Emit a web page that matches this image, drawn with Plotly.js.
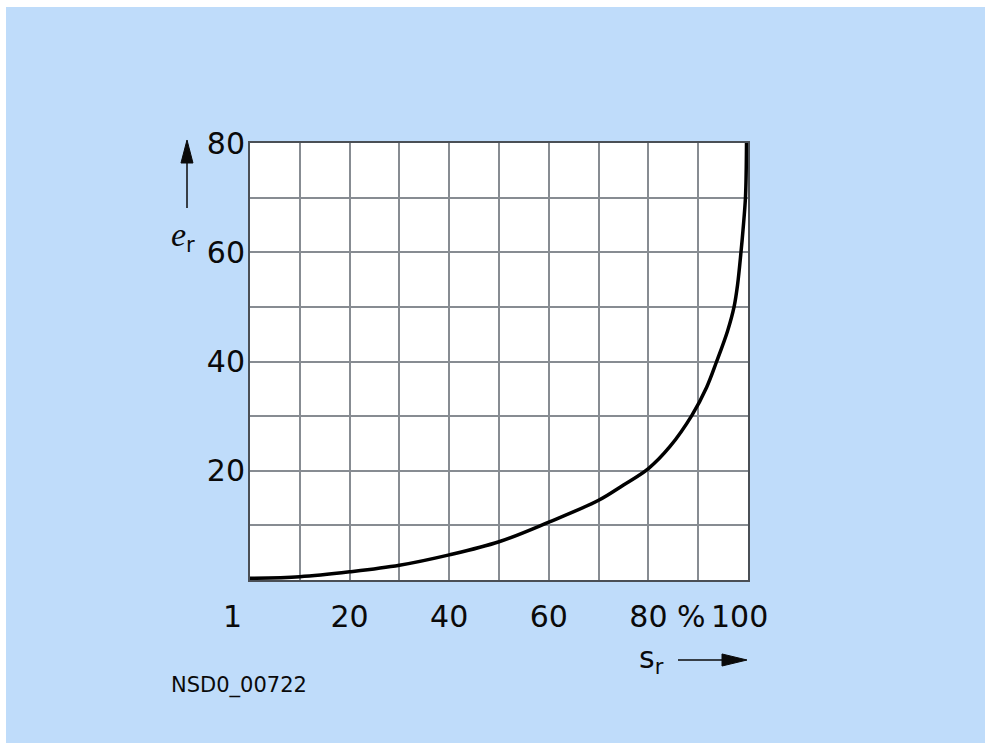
<!DOCTYPE html>
<html>
<head>
<meta charset="utf-8">
<script src="https://cdn.plot.ly/plotly-3.0.1.min.js"></script>
<style>
html,body{margin:0;padding:0;background:#ffffff;}
#chart{position:absolute;left:6px;top:7px;width:979px;height:736px;}
</style>
</head>
<body>
<div id="chart"></div>
<script>
// s_r in %, e_r values
const sr = [0, 10, 20, 30, 40, 50, 60, 70, 75, 80, 84.3, 88.7, 91.7, 93.7, 95.9, 97.2, 97.9, 98.6, 99.0, 99.5, 99.7];
const er = [0.3, 0.6, 1.5, 2.7, 4.6, 7.0, 10.6, 14.6, 17.4, 20.4, 24.4, 30.1, 35.3, 40, 45.6, 50, 54, 60.1, 64.1, 70.2, 80];
const xTickVals = [20, 40, 60, 80];
const xTickText = ['20', '40', '60', '80'];
const yTickVals = [20, 40, 60, 80];
const yTickText = ['20', '40', '60', '80'];

const bg = '#bfdcfa';
const gridC = '#878c92';
const font = 'DejaVu Sans, sans-serif';
const ink = '#0a0a0a';

const trace = {
  x: sr, y: er, xaxis: 'x2', yaxis: 'y2', type: 'scatter', mode: 'lines',
  line: {color: '#000000', width: 3.5, shape: 'spline', smoothing: 1.0},
  hoverinfo: 'skip', showlegend: false
};

const labelY = -0.083;
const layout = {
  width: 979, height: 736,
  margin: {l: 244, r: 237, t: 136, b: 163},
  paper_bgcolor: bg, plot_bgcolor: '#ffffff',
  showlegend: false,
  xaxis: {
    range: [0, 100], fixedrange: true,
    showgrid: true, gridcolor: gridC, gridwidth: 2,
    showline: true, linecolor: '#4a4f55', linewidth: 2, mirror: true,
    zeroline: false, ticks: '',
    tickmode: 'array', tickvals: xTickVals, ticktext: xTickText,
    ticklabelstandoff: 9,
    tickfont: {family: font, size: 30, color: ink}
  },
  yaxis: {
    range: [0, 80], fixedrange: true,
    showgrid: true, gridcolor: gridC, gridwidth: 2,
    showline: true, linecolor: '#4a4f55', linewidth: 2, mirror: true,
    zeroline: false, ticks: '',
    tickmode: 'array', tickvals: yTickVals, ticktext: yTickText,
    ticklabelstandoff: -3,
    tickfont: {family: font, size: 30, color: ink}
  },
  xaxis2: {
    overlaying: 'x', range: [0, 100], dtick: 10, tick0: 0, fixedrange: true,
    showgrid: true, gridcolor: gridC, gridwidth: 2, showticklabels: false,
    zeroline: false, showline: false, ticks: ''
  },
  yaxis2: {
    overlaying: 'y', range: [0, 80], dtick: 10, tick0: 0, fixedrange: true,
    showgrid: true, gridcolor: gridC, gridwidth: 2, showticklabels: false,
    zeroline: false, showline: false, ticks: ''
  },
  shapes: [
    // y-axis arrow
    {type: 'line', xref: 'paper', yref: 'paper', x0: -0.1265, x1: -0.1265, y0: 0.8513, y1: 0.96,
     line: {color: ink, width: 1.5}},
    {type: 'path', xref: 'paper', yref: 'paper',
     path: 'M -0.1386 0.9542 L -0.1145 0.9542 L -0.1265 1.0069 Z',
     fillcolor: ink, line: {color: ink, width: 1}},
    // x-axis arrow
    {type: 'line', xref: 'paper', yref: 'paper', x0: 0.8594, x1: 0.955, y0: -0.1831, y1: -0.1831,
     line: {color: ink, width: 1.5}},
    {type: 'path', xref: 'paper', yref: 'paper',
     path: 'M 0.9478 -0.1693 L 0.9478 -0.1968 L 0.998 -0.1831 Z',
     fillcolor: ink, line: {color: ink, width: 1}}
  ],
  annotations: [
    {text: '1', xref: 'paper', yref: 'paper', x: -0.036, y: labelY,
     xanchor: 'center', yanchor: 'middle', showarrow: false,
     font: {family: font, size: 30, color: ink}},
    {text: '%', xref: 'paper', yref: 'paper', x: 0.887, y: labelY,
     xanchor: 'center', yanchor: 'middle', showarrow: false,
     font: {family: font, size: 30, color: ink}},
    {text: '100', xref: 'paper', yref: 'paper', x: 0.982, y: labelY,
     xanchor: 'center', yanchor: 'middle', showarrow: false,
     font: {family: font, size: 30, color: ink}},
    {text: '<span style="font-family:Liberation Serif;font-style:italic;font-size:34px">e</span><sub>r</sub>',
     xref: 'paper', yref: 'paper', x: -0.1355, y: 0.787,
     xanchor: 'center', yanchor: 'middle', showarrow: false,
     font: {family: font, size: 30, color: ink}},
    {text: 's<sub>r</sub>', xref: 'paper', yref: 'paper', x: 0.806, y: -0.183,
     xanchor: 'center', yanchor: 'middle', showarrow: false,
     font: {family: font, size: 30, color: ink}},
    {text: 'NSD0_00722', xref: 'paper', yref: 'paper', x: -0.163, y: -0.241,
     xanchor: 'left', yanchor: 'middle', showarrow: false,
     font: {family: font, size: 21, color: ink}}
  ]
};

const gridTrace = {x: [0], y: [0], type: 'scatter', mode: 'markers',
  marker: {opacity: 0, size: 1}, hoverinfo: 'skip', showlegend: false};

Plotly.newPlot('chart', [gridTrace, trace], layout, {displayModeBar: false, staticPlot: true});
</script>
</body>
</html>
